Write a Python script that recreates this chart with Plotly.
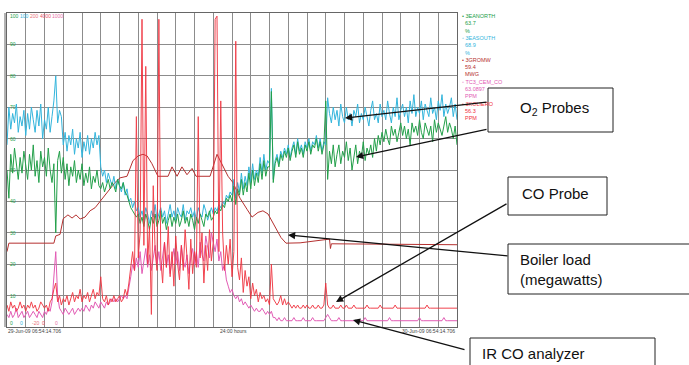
import plotly.graph_objects as go

# ---------------- data (values in % of chart span) ----------------
# samples every 0.1 h over the 24 h window
o2_south = [58, 70, 63, 68, 65, 71, 62, 67, 64, 69,
            61, 68, 63, 70, 66, 62, 69, 64, 71, 60,
            66, 63, 70, 62, 67, 72, 80, 65, 69, 67,
            58, 62, 56, 61, 58, 63, 55, 60, 57, 62,
            54, 59, 56, 61, 55, 60, 57, 62, 58, 61,
            51, 48, 50, 46, 49, 47, 45, 48, 44, 47,
            45, 43, 46, 42, 44, 40, 41, 38, 40, 37,
            38, 35, 37, 34, 38, 36, 33, 37, 35, 39,
            34, 36, 38, 35, 37, 33, 36, 39, 35, 37,
            34, 38, 36, 35, 39, 34, 37, 36, 38, 35,
            37, 34, 38, 36, 35, 39, 37, 34, 36, 38,
            36, 38, 37, 39, 38, 40, 39, 42, 41, 43,
            42, 47, 41, 46, 43, 49, 44, 48, 45, 51,
            46, 52, 47, 50, 48, 54, 49, 55, 50, 53,
            52, 76, 47, 53, 55, 52, 56, 54, 57, 55,
            58, 54, 57, 59, 55, 60, 56, 58, 55, 59,
            57, 60, 56, 59, 58, 61, 57, 60, 56, 59,
            58, 73, 68, 65, 70, 66, 69, 64, 71, 67,
            65, 70, 66, 68, 64, 69, 67, 71, 65, 68,
            66, 70, 67, 64, 69, 72, 66, 68, 65, 71,
            67, 69, 66, 72, 68, 65, 70, 67, 73, 66,
            69, 71, 67, 70, 65, 72, 68, 74, 67, 70,
            68, 72, 66, 71, 69, 67, 73, 68, 70, 66,
            72, 69, 74, 67, 71, 68, 70, 73, 67, 71,
            66]

o2_north = [50, 41, 55, 49, 57, 51, 47, 54, 49, 56,
            52, 47, 55, 50, 58, 48, 53, 46, 56, 51,
            54, 48, 57, 50, 46, 52, 30, 53, 56, 49,
            54, 47, 52, 45, 51, 48, 53, 46, 50, 47,
            52, 45, 49, 46, 51, 44, 48, 46, 50, 45,
            44, 46, 43, 45, 47, 44, 46, 45, 43, 47,
            45, 44, 46, 43, 42, 40, 38, 37, 36, 35,
            36, 33, 35, 32, 36, 34, 31, 35, 33, 36,
            32, 34, 37, 33, 35, 31, 34, 36, 32, 35,
            33, 36, 32, 34, 37, 33, 35, 32, 36, 34,
            31, 35, 33, 36, 34, 32, 36, 35, 37, 34,
            35, 37, 36, 38, 37, 39, 38, 41, 40, 42,
            40, 45, 39, 44, 42, 47, 42, 46, 43, 49,
            44, 50, 45, 49, 46, 52, 47, 53, 48, 51,
            51, 75, 46, 52, 54, 51, 55, 53, 56, 54,
            57, 53, 56, 58, 54, 59, 55, 57, 54, 58,
            56, 59, 55, 58, 57, 60, 56, 59, 55, 58,
            72, 47, 56, 52, 58, 51, 55, 58, 52, 56,
            54, 59, 53, 57, 50, 55, 58, 52, 56, 54,
            59, 53, 57, 55, 58, 54, 60, 56, 61, 58,
            62, 59, 63, 60, 58, 64, 61, 63, 59, 62,
            65, 61, 64, 60, 63, 58, 65, 62, 64, 61,
            66, 62, 60, 65, 63, 61, 64, 59, 66, 62,
            65, 63, 61, 64, 67, 62, 65, 63, 60, 64,
            58]

co_probe = [7, 5, 8, 6, 7, 5, 6, 8, 6, 7,
            5, 7, 6, 8, 6, 7, 5, 6, 8, 7,
            6, 7, 5, 8, 9, 12, 14, 8, 10, 7,
            9, 8, 10, 7, 9, 11, 8, 10, 9, 12,
            8, 10, 9, 11, 8, 10, 12, 9, 11, 10,
            16, 9, 8, 10, 7, 9, 8, 10, 8, 9,
            10, 8, 9, 12, 10, 14, 20, 24, 18, 67,
            22, 30, 98, 26, 83, 20, 32, 4, 45, 24,
            18, 98, 22, 14, 27, 19, 32, 16, 24, 13,
            29, 20, 15, 26, 18, 31, 22, 12, 28, 17,
            24, 19, 67, 22, 30, 14, 26, 18, 31, 21,
            27, 98, 99, 24, 72, 30, 18, 26, 20, 28,
            16, 24, 91, 19, 15, 22, 11, 18, 13, 16,
            9, 14, 10, 12, 8, 11, 9, 10, 8, 9,
            7, 20, 9, 8, 7, 8, 10, 7, 9, 7,
            8, 7, 6, 7, 6, 7, 6, 6, 7, 6,
            7, 6, 6, 7, 6, 6, 7, 6, 6, 7,
            14, 7, 6, 6, 7, 6, 6, 6, 7, 6,
            6, 7, 6, 6, 6, 7, 6, 6, 6, 6,
            6, 6, 7, 6, 6, 6, 6, 6, 6, 7,
            6, 6, 6, 6, 6, 6, 6, 7, 6, 6,
            6, 6, 6, 6, 6, 6, 6, 6, 6, 6,
            6, 6, 6, 6, 7, 6, 6, 6, 6, 6,
            6, 6, 6, 6, 6, 6, 6, 6, 6, 6,
            6]

co_ir = [4, 3, 5, 3, 4, 6, 3, 4, 5, 3,
         4, 5, 3, 4, 5, 4, 3, 5, 4, 3,
         5, 4, 6, 5, 8, 15, 24, 10, 6, 5,
         4, 6, 5, 4, 5, 6, 4, 5, 6, 5,
         6, 5, 7, 6, 5, 7, 6, 8, 7, 6,
         8, 7, 6, 8, 7, 8, 9, 8, 9, 8,
         9, 10, 9, 10, 9, 12, 16, 20, 18, 22,
         19, 24, 17, 21, 25, 19, 23, 18, 22, 26,
         20, 24, 18, 22, 27, 19, 23, 17, 21, 25,
         20, 24, 18, 26, 21, 19, 23, 17, 22, 25,
         20, 24, 19, 27, 23, 21, 29, 25, 22, 30,
         27, 24, 28, 21, 24, 18, 20, 15, 13, 11,
         12, 10, 9, 10, 8, 9, 7, 8, 7, 6,
         7, 6, 5, 6, 5, 5, 6, 5, 4, 5,
         4, 5, 3, 3, 2, 3, 2, 2, 3, 2,
         2, 2, 2, 3, 2, 2, 2, 2, 3, 2,
         2, 2, 2, 3, 2, 2, 2, 2, 2, 2,
         3, 4, 3, 2, 2, 2, 2, 3, 2, 2,
         2, 2, 2, 2, 2, 2, 2, 2, 2, 2,
         2, 3, 2, 2, 2, 2, 2, 2, 2, 2,
         2, 2, 2, 2, 3, 2, 2, 2, 2, 2,
         2, 2, 2, 2, 2, 2, 2, 2, 2, 2,
         3, 2, 2, 2, 2, 2, 2, 2, 2, 2,
         2, 2, 2, 3, 2, 2, 2, 2, 2, 2,
         2]

load_hours = [0, 0.1, 2.5, 2.6, 2.83, 3.0, 3.25, 3.47, 3.68, 3.9, 4.16, 4.43, 4.7, 4.96,
              5.4, 5.76, 6.03, 6.4, 6.72, 7.0, 7.25, 7.47, 7.73, 8.05, 8.59, 8.8, 9.07,
              9.33, 9.6, 9.87, 10.08, 10.83, 11.2, 11.47, 11.79, 12.05, 12.43, 12.8,
              13.07, 13.39, 13.65, 13.92, 14.29, 14.61, 14.88, 15.63, 17.2, 17.25, 17.3,
              20.0, 24.0]
load_pct = [24, 26.7, 26.7, 29, 29.5, 34.5, 35.7, 34.7, 35.7, 34.4, 35, 37, 38, 40,
            43.5, 46, 47.5, 48, 53, 54.5, 55, 54.5, 52, 48, 48, 51, 48,
            51, 48.5, 50.5, 48, 48, 55, 52, 48, 46, 41, 37.5,
            35, 36.5, 37, 36, 32, 28.5, 26.7, 26.8, 28, 25, 26.5,
            26.4, 26.2]

left_ticks = [10, 20, 30, 40, 50, 60, 70, 80, 90]
top_scale = ["100", "100", "200", "4000", "1000"]
bottom_scale = ["0", "0", "-20", "0", "0"]
legend_lines = [("• 3EANORTH", "63.7", "%"), ("◦ 3EASOUTH", "68.9", "%"),
                ("• 3GROMW", "59.4", "MWG"), ("◦ TC3_CEM_CO", "63.0897", "PPM"),
                ("• 3KOLIERO", "56.3", "PPM")]


def times(series):
    return [round(i * 0.1, 1) for i in range(len(series))]


GREEN = "#23a04a"
CYAN = "#33b5dc"
DRED = "#b5302f"
RED = "#f0303c"
PINK = "#e25bb4"
pen_colors = [GREEN, CYAN, DRED, PINK, RED]
scale_colors = [GREEN, CYAN, "#e8707a", "#e8506a", "#e870a8"]

# ---------------- geometry helpers (pixels -> paper) ----------------
L, R, T, B = 7, 457, 13, 327
W, H = 689, 365


def X(px):
    return (px - L) / (R - L)


def Y(py):
    return (B - py) / (B - T)


fig = go.Figure()
fig.add_trace(go.Scatter(x=load_hours, y=load_pct, mode="lines", line=dict(color=DRED, width=1)))
fig.add_trace(go.Scatter(x=times(o2_south), y=o2_south, mode="lines", line=dict(color=CYAN, width=1)))
fig.add_trace(go.Scatter(x=times(o2_north), y=o2_north, mode="lines", line=dict(color=GREEN, width=1)))
fig.add_trace(go.Scatter(x=times(co_ir), y=co_ir, mode="lines", line=dict(color=PINK, width=1)))
fig.add_trace(go.Scatter(x=times(co_probe), y=co_probe, mode="lines", line=dict(color=RED, width=1),
                         opacity=0.9))

FONT = "Arial, Liberation Sans, sans-serif"
ann = []
shapes = []

# left scale labels (green)
for v in left_ticks:
    ann.append(dict(x=X(8), y=v, xref="paper", yref="y", text=str(v), showarrow=False,
                    xanchor="left", yanchor="middle", font=dict(size=5, color=GREEN, family=FONT)))
# top / bottom scale labels
tx = [7, 17, 27, 37, 49]
for t, px, c in zip(top_scale, tx, scale_colors):
    ann.append(dict(x=X(px + 1), y=Y(16), xref="paper", yref="paper", text=t, showarrow=False,
                    xanchor="left", yanchor="middle", font=dict(size=5, color=c, family=FONT)))
bx = [7, 17, 29, 39, 52]
for t, px, c in zip(bottom_scale, bx, scale_colors):
    ann.append(dict(x=X(px + 1), y=Y(323), xref="paper", yref="paper", text=t, showarrow=False,
                    xanchor="left", yanchor="middle", font=dict(size=5, color=c, family=FONT)))

# time labels
for txt, px, anc in [("29-Jun-09 06:54:14.706", 6, "left"), ("24:00 hours", 218, "left"),
                     ("30-Jun-09 06:54:14.706", 457, "right")]:
    ann.append(dict(x=X(px), y=Y(331), xref="paper", yref="paper", text=txt, showarrow=False,
                    xanchor=anc, yanchor="middle", font=dict(size=5, color="#444", family=FONT)))

# pen legend on the right
row = 0
for (name, val, unit), c in zip(legend_lines, pen_colors):
    for k, t in enumerate((name, val, unit)):
        ann.append(dict(x=X(460 if k == 0 else 463), y=Y(16 + 7.3 * row), xref="paper", yref="paper",
                        text=t, showarrow=False, xanchor="left", yanchor="middle",
                        font=dict(size=5.5, color=c, family=FONT)))
        row += 1

# double left border
shapes.append(dict(type="line", xref="paper", yref="paper", x0=X(5), x1=X(5), y0=0, y1=1,
                   line=dict(color="#666", width=1)))

# callout boxes
boxes = [
    (488, 88, 613, 132, "O<sub>2</sub> Probes", (518, 108)),
    (508, 177, 607, 215, "CO Probe", (520, 193)),
    (508, 244, 700, 294, "Boiler load<br>(megawatts)", (518, 269)),
    (470, 338, 655, 380, "IR CO analyzer", (480, 353)),
]
for x0, y0, x1, y1, txt, (px, py) in boxes:
    shapes.append(dict(type="rect", xref="paper", yref="paper", x0=X(x0), x1=X(x1), y0=Y(y0), y1=Y(y1),
                       line=dict(color="#222", width=1), fillcolor="white", layer="above"))
    ann.append(dict(x=X(px), y=Y(py), xref="paper", yref="paper", text=txt, showarrow=False,
                    xanchor="left", yanchor="middle", align="left",
                    font=dict(size=15, color="#111", family=FONT)))

# arrows (tip, start)
arrows = [((345, 118), (488, 102)), ((356, 157), (488, 129)), ((336, 302), (508, 203)),
          ((288, 235), (509, 256)), ((353, 320), (466, 350))]
for (tx_, ty_), (sx, sy) in arrows:
    ann.append(dict(x=X(tx_), y=Y(ty_), xref="paper", yref="paper", text="", showarrow=True,
                    ax=sx - tx_, ay=sy - ty_, arrowhead=2, arrowsize=1.1, arrowwidth=1.3,
                    arrowcolor="#111", standoff=0))

fig.update_layout(
    width=W, height=H, autosize=False,
    margin=dict(l=L, r=W - R, t=T, b=H - B, pad=0),
    paper_bgcolor="white", plot_bgcolor="white",
    showlegend=False,
    xaxis=dict(range=[0, 24], dtick=1, showgrid=True, gridcolor="#8c8c8c", gridwidth=1,
               showticklabels=False, zeroline=False, showline=True, linecolor="#666", mirror=True,
               ticks=""),
    yaxis=dict(range=[0, 100], dtick=10, showgrid=True, gridcolor="#8c8c8c", gridwidth=1,
               showticklabels=False, zeroline=False, showline=True, linecolor="#666", mirror=True,
               ticks=""),
    annotations=ann, shapes=shapes,
)

fig.write_html("out.html", config={"displayModeBar": False},
               post_script="document.body.style.margin='0';")
